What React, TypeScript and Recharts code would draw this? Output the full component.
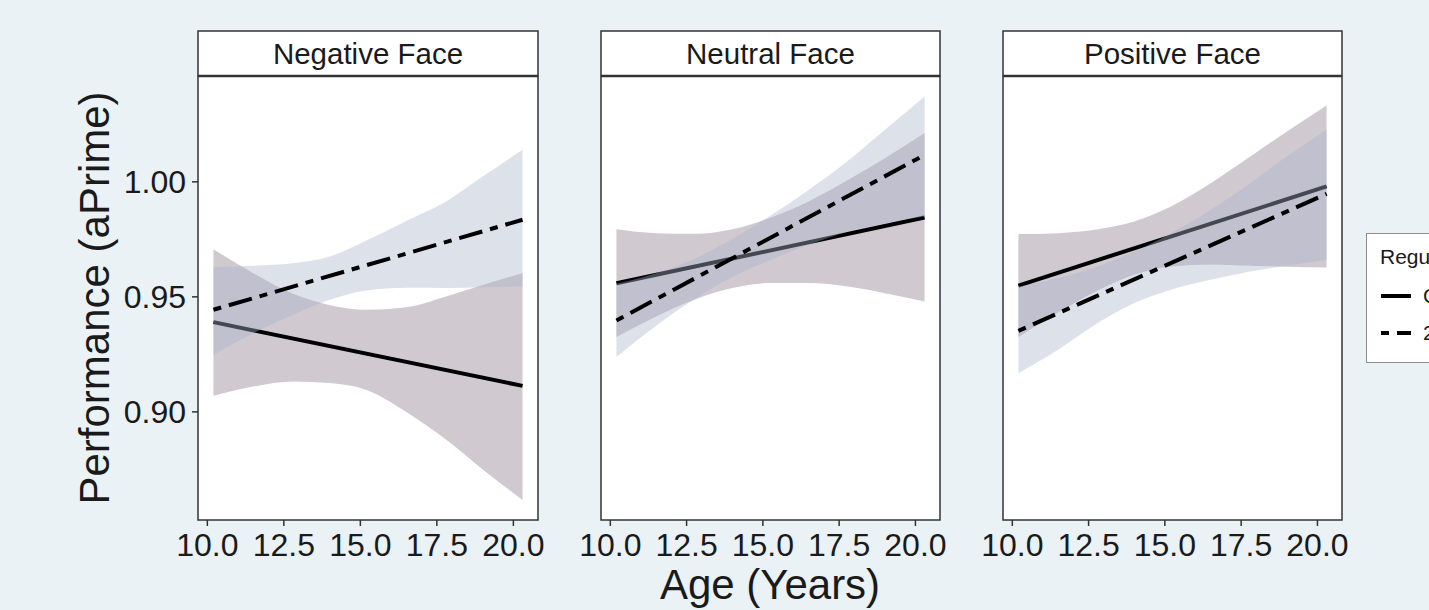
import React from 'react';
import { ComposedChart, Area, Line, XAxis, YAxis } from 'recharts';

// ---- data ----
const ages = [10.2, 11.5, 12.8, 14.0, 15.2, 16.5, 17.8, 19.0, 20.3];
const xTicks = [10, 12.5, 15, 17.5, 20];
const yTicks = [0.9, 0.95, 1.0];
const panelNames = ['Negative Face', 'Neutral Face', 'Positive Face'];
const legendTitle = 'Regulation';
const legendLabels = ['Control', '2'];

// Negative Face
const negSolid = [0.939, 0.9113];
const negDash = [0.9444, 0.9835];
const negSolidUpper = [0.9707, 0.9603, 0.9513, 0.9464, 0.9444, 0.9455, 0.9502, 0.9552, 0.9603];
const negSolidLower = [0.907, 0.911, 0.9132, 0.9125, 0.9095, 0.9, 0.888, 0.875, 0.8617];
const negDashUpper = [0.9629, 0.9635, 0.9646, 0.9675, 0.9745, 0.983, 0.9915, 1.0023, 1.0139];
const negDashLower = [0.9248, 0.9342, 0.9422, 0.9487, 0.9528, 0.954, 0.9539, 0.9542, 0.9545];

// Neutral Face
const neuSolid = [0.9559, 0.9845];
const neuDash = [0.9397, 1.0117];
const neuSolidUpper = [0.9794, 0.9777, 0.9774, 0.9794, 0.9842, 0.9915, 1.0009, 1.0103, 1.0212];
const neuSolidLower = [0.9325, 0.9415, 0.949, 0.9538, 0.956, 0.956, 0.9545, 0.9516, 0.948];
const neuDashUpper = [0.9557, 0.9603, 0.9668, 0.9751, 0.9849, 0.9965, 1.0093, 1.0226, 1.0371];
const neuDashLower = [0.9238, 0.9374, 0.9494, 0.9586, 0.9658, 0.9726, 0.9784, 0.982, 0.9849];

// Positive Face
const posSolid = [0.9549, 0.998];
const posDash = [0.9352, 0.9948];
const posSolidUpper = [0.9773, 0.9777, 0.9794, 0.9828, 0.9893, 0.9994, 1.011, 1.0219, 1.0332];
const posSolidLower = [0.9326, 0.9432, 0.9528, 0.9596, 0.9632, 0.9641, 0.9635, 0.9631, 0.9628];
const posDashUpper = [0.9545, 0.9581, 0.9632, 0.9697, 0.9777, 0.9878, 0.9994, 1.011, 1.0226];
const posDashLower = [0.9168, 0.927, 0.9386, 0.9473, 0.9531, 0.9574, 0.961, 0.9635, 0.9661];

// ---- helpers ----
const buildRows = (
  solid: number[], dash: number[],
  sU: number[], sL: number[], dU: number[], dL: number[]
) =>
  ages.map((age, i) => ({
    age,
    solidBand: [sL[i], sU[i]],
    dashBand: [dL[i], dU[i]],
    solid: i === 0 ? solid[0] : i === ages.length - 1 ? solid[1] : null,
    dash: i === 0 ? dash[0] : i === ages.length - 1 ? dash[1] : null,
  }));

const panelRows = [
  buildRows(negSolid, negDash, negSolidUpper, negSolidLower, negDashUpper, negDashLower),
  buildRows(neuSolid, neuDash, neuSolidUpper, neuSolidLower, neuDashUpper, neuDashLower),
  buildRows(posSolid, posDash, posSolidUpper, posSolidLower, posDashUpper, posDashLower),
];

const FONT = '"Liberation Sans", Arial, Helvetica, sans-serif';
const BG = '#eaf2f6';
const FRAME = '#333333';
const TEXT = '#1a1a1a';
const PURPLE = '#8a788a';
const BLUE = '#a8b4cb';
const DASH = '8 8 24 8';

const PLOT_TOP = 76;
const PLOT_H = 444;
const X_AXIS_H = 70;
const Y_AXIS_W = 198;
const SIDE = 40;
const panelX = [
  { left: 198, right: 538 },
  { left: 601, right: 940 },
  { left: 1003, right: 1342 },
];
const X_DOMAIN: [number, number] = [9.695, 20.805];
const Y_DOMAIN: [number, number] = [0.853, 1.046];

function Panel({ idx }: { idx: number }) {
  const { left, right } = panelX[idx];
  const showY = idx === 0;
  const chartLeft = showY ? 0 : left - SIDE;
  const width = showY ? right + SIDE : right - left + 2 * SIDE;
  const height = PLOT_H + X_AXIS_H;
  const leftMargin = showY ? 0 : SIDE;
  return (
    <div style={{ position: 'absolute', left: chartLeft, top: PLOT_TOP, width, height }}>
      {/* layer 1: axes, first group's ribbon and line */}
      <div style={{ position: 'absolute', left: 0, top: 0 }}>
        <ComposedChart
          width={width}
          height={height}
          data={panelRows[idx]}
          margin={{ top: 0, right: SIDE, bottom: 0, left: leftMargin }}
        >
          <XAxis
            dataKey="age"
            type="number"
            domain={X_DOMAIN}
            ticks={xTicks}
            interval={0}
            allowDataOverflow
            tickFormatter={(v: number) => v.toFixed(1)}
            height={X_AXIS_H}
            axisLine={false}
            tickLine={{ stroke: FRAME, strokeWidth: 1.5 }}
            tickSize={6}
            tickMargin={7}
            tick={{ fontSize: 32, fill: TEXT, fontFamily: FONT }}
          />
          <YAxis
            type="number"
            domain={Y_DOMAIN}
            ticks={yTicks}
            allowDataOverflow
            hide={!showY}
            width={Y_AXIS_W}
            tickFormatter={(v: number) => v.toFixed(2)}
            axisLine={false}
            tickLine={{ stroke: FRAME, strokeWidth: 1.5 }}
            tickSize={6}
            tickMargin={6}
            tick={{ fontSize: 32, fill: TEXT, fontFamily: FONT }}
            label={
              showY
                ? {
                    value: 'Performance (aPrime)',
                    angle: -90,
                    position: 'insideLeft',
                    offset: 94,
                    style: { textAnchor: 'middle', fontSize: 42, fill: TEXT, fontFamily: FONT },
                  }
                : undefined
            }
          />
          <Area
            dataKey="solidBand"
            type="monotone"
            stroke="none"
            fill={PURPLE}
            fillOpacity={0.4}
            dot={false}
            activeDot={false}
            isAnimationActive={false}
          />
          <Line
            dataKey="solid"
            type="linear"
            stroke="#000"
            strokeWidth={4}
            dot={false}
            activeDot={false}
            connectNulls
            isAnimationActive={false}
          />
        </ComposedChart>
      </div>
      {/* layer 2: second group's ribbon drawn over the first line, then its line */}
      <div style={{ position: 'absolute', left: 0, top: 0 }}>
        <ComposedChart
          width={width}
          height={height}
          data={panelRows[idx]}
          margin={{
            top: 0,
            right: SIDE,
            bottom: X_AXIS_H,
            left: showY ? Y_AXIS_W : SIDE,
          }}
        >
          <XAxis dataKey="age" type="number" domain={X_DOMAIN} allowDataOverflow hide />
          <YAxis type="number" domain={Y_DOMAIN} allowDataOverflow hide />
          <Area
            dataKey="dashBand"
            type="monotone"
            stroke="none"
            fill={BLUE}
            fillOpacity={0.4}
            dot={false}
            activeDot={false}
            isAnimationActive={false}
          />
          <Line
            dataKey="dash"
            type="linear"
            stroke="#000"
            strokeWidth={4}
            strokeDasharray={DASH}
            dot={false}
            activeDot={false}
            connectNulls
            isAnimationActive={false}
          />
        </ComposedChart>
      </div>
    </div>
  );
}

export default function App() {
  return (
    <div
      style={{
        position: 'absolute',
        left: 0,
        top: 0,
        width: 1429,
        height: 610,
        background: BG,
        overflow: 'hidden',
        fontFamily: FONT,
      }}
    >
      <svg width={1429} height={610} style={{ position: 'absolute', left: 0, top: 0 }}>
        {panelX.map((p, i) => (
          <g key={i}>
            <rect x={p.left} y={31} width={p.right - p.left} height={44.5} fill="#fff" stroke={FRAME} strokeWidth={1.5} />
            <text
              x={(p.left + p.right) / 2}
              y={63.5}
              textAnchor="middle"
              fontSize={29.5}
              fill={TEXT}
              fontFamily={FONT}
            >
              {panelNames[i]}
            </text>
            <rect x={p.left} y={76.5} width={p.right - p.left} height={443.5} fill="#fff" stroke={FRAME} strokeWidth={1.5} />
          </g>
        ))}
        <text x={770} y={599} textAnchor="middle" fontSize={42} fill={TEXT} fontFamily={FONT}>
          Age (Years)
        </text>
        <g>
          <rect x={1366.5} y={233.5} width={140} height={129} fill="#fff" stroke="#8c8c8c" strokeWidth={1} />
          <text x={1380} y={264} fontSize={21} fill={TEXT} fontFamily={FONT}>
            {legendTitle}
          </text>
          <line x1={1381} x2={1411} y1={296} y2={296} stroke="#000" strokeWidth={4} />
          <text x={1423} y={303} fontSize={21} fill={TEXT} fontFamily={FONT}>
            {legendLabels[0]}
          </text>
          <line x1={1381} x2={1411} y1={333} y2={333} stroke="#000" strokeWidth={4} strokeDasharray={DASH} />
          <text x={1423} y={340} fontSize={21} fill={TEXT} fontFamily={FONT}>
            {legendLabels[1]}
          </text>
        </g>
      </svg>
      {panelX.map((_, i) => (
        <Panel key={i} idx={i} />
      ))}
    </div>
  );
}
